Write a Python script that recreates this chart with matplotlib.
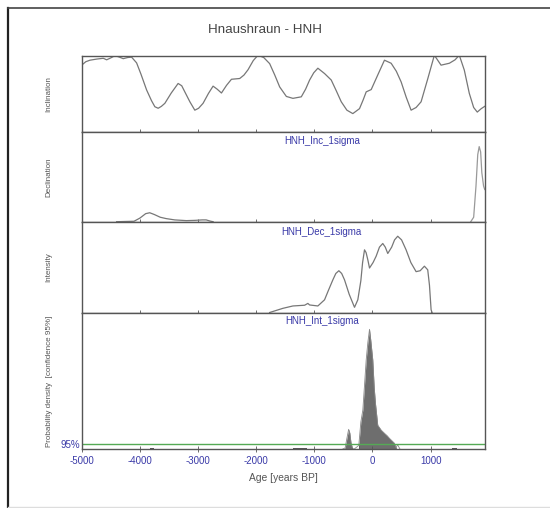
import numpy as np
import matplotlib
matplotlib.use("Agg")
import matplotlib.pyplot as plt
from matplotlib.lines import Line2D

plt.rcParams['font.family'] = ['Liberation Sans', 'DejaVu Sans']

# -----------------------------------------------------------------------------
# Data
# -----------------------------------------------------------------------------
inc_age = [-5000, -4930, -4858, -4740, -4629, -4571, -4500, -4428, -4350, -4286,
           -4210, -4142, -4056, -3980, -3884, -3800, -3742, -3685, -3630, -3570,
           -3460, -3342, -3280, -3227, -3140, -3055, -2990, -2913, -2820, -2741,
           -2670, -2597, -2510, -2425, -2283, -2210, -2140, -2050, -1969, -1870,
           -1768, -1680, -1596, -1481, -1368, -1224, -1150, -1081, -1010, -939,
           -824, -709, -620, -537, -440, -338, -223, -160, -108, -22,
           90, 206, 321, 410, 493, 580, 664, 750, 836, 950,
           1064, 1179, 1322, 1420, 1493, 1579, 1665, 1740, 1802, 1870, 1930]
inc_val = [77.6, 78.5, 78.9, 79.2, 79.4, 79.0, 79.5, 80.1, 79.7, 79.3,
           79.6, 79.7, 78.2, 75.2, 71.1, 68.3, 66.7, 66.3, 66.8, 67.6,
           70.3, 72.8, 72.2, 70.6, 68.0, 65.8, 66.3, 67.6, 70.2, 72.1,
           71.3, 70.3, 72.3, 73.9, 74.1, 75.0, 76.4, 78.8, 80.2, 79.6,
           78.0, 75.0, 71.9, 69.4, 68.9, 69.3, 71.3, 73.7, 75.6, 76.8,
           75.4, 73.7, 70.8, 68.0, 65.8, 64.9, 66.2, 68.5, 70.6, 71.2,
           75.0, 78.9, 78.1, 76.0, 73.2, 69.2, 65.8, 66.5, 68.0, 74.0,
           80.2, 77.6, 78.1, 79.0, 80.2, 76.3, 70.2, 66.5, 65.3, 66.2, 66.8]

dec_age_a = [-4400, -4100, -4000, -3900, -3830, -3750, -3650, -3550, -3400,
             -3200, -3050, -2930, -2860, -2780, -2740]
dec_val_a = [0.0, 0.005, 0.04, 0.09, 0.10, 0.08, 0.05, 0.035, 0.02,
             0.012, 0.015, 0.02, 0.02, 0.005, 0.0]
dec_age_b = [1690, 1740, 1780, 1810, 1835, 1860, 1880, 1910, 1930]
dec_val_b = [0.0, 0.05, 0.40, 0.75, 0.84, 0.78, 0.55, 0.40, 0.36]

int_age = [-1768, -1540, -1368, -1167, -1111, -1081, -939, -824, -760, -681,
           -630, -578, -530, -481, -400, -309, -252, -200, -170, -137,
           -110, -80, -51, 10, 63, 120, 177, 220, 263, 330,
           380, 434, 500, 578, 660, 750, 820, 893, 950, 980, 1008, 1025]
int_val = [0.0, 0.046, 0.072, 0.08, 0.10, 0.083, 0.072, 0.14, 0.24, 0.36,
           0.43, 0.46, 0.43, 0.36, 0.20, 0.057, 0.14, 0.35, 0.55, 0.69,
           0.66, 0.58, 0.49, 0.55, 0.62, 0.72, 0.76, 0.72, 0.65, 0.72,
           0.80, 0.84, 0.80, 0.69, 0.55, 0.45, 0.46, 0.51, 0.47, 0.30, 0.03, 0.0]

pd_age = [-520, -470, -440, -410, -390, -370, -345, -320, -290, -260,
          -235, -200, -166, -140, -108, -80, -51, -30, 5, 30,
          51, 91, 150, 206, 250, 292, 340, 378, 407, 430, 475]
pd_val = [0.0, 0.01, 0.08, 0.146, 0.12, 0.05, 0.01, 0.0, 0.01, 0.02,
          0.03, 0.20, 0.287, 0.45, 0.654, 0.78, 0.877, 0.80, 0.654, 0.45,
          0.337, 0.176, 0.14, 0.117, 0.10, 0.08, 0.06, 0.044, 0.01, 0.035, 0.0]
hpd_ranges = [(-470, -345), (-235, 407)]
# tiny density blobs close to the baseline
blob_ranges = [(-3820, -3760), (-1360, -1130), (1370, 1460)]
blob_height = 0.008
level_95 = 0.037

xticks = [-5000, -4000, -3000, -2000, -1000, 0, 1000]
panel_names = ['Inclination', 'Declination', 'Intensity',
               'Probability density  [confidence 95%]']
panel_tags = ['HNH_Inc_1sigma', 'HNH_Dec_1sigma', 'HNH_Int_1sigma']

# -----------------------------------------------------------------------------
# Figure layout (pixel based)
# -----------------------------------------------------------------------------
W, H = 550, 508
fig = plt.figure(figsize=(W / 100, H / 100), dpi=100)
fig.patch.set_facecolor('white')

left_px, right_px = 81.7, 485.3
bounds_px = [56.0, 132.3, 221.7, 312.5, 449.3]
line_c = '#777777'
spine_c = '#555555'
blue = '#3a3aa8'

axes = []
for i in range(4):
    top, bot = bounds_px[i], bounds_px[i + 1]
    ax = fig.add_axes([left_px / W, 1 - bot / H, (right_px - left_px) / W, (bot - top) / H])
    ax.set_xlim(-5000, 1940)
    for s in ax.spines.values():
        s.set_color(spine_c)
        s.set_linewidth(1.0)
    ax.set_xticks(xticks)
    ax.tick_params(axis='x', direction='inout', length=4, width=0.6, color=spine_c,
                   labelbottom=False)
    ax.set_yticks([])
    ax.set_ylabel(panel_names[i], fontsize=5.8, color='#555555')
    ax.yaxis.set_label_coords(-0.072, 0.5)
    axes.append(ax)

# Inclination
ax = axes[0]
ax.plot(inc_age, inc_val, color=line_c, lw=0.9)
ax.set_ylim(60.0, 80.0)

# Declination
ax = axes[1]
ax.plot(dec_age_a, dec_val_a, color=line_c, lw=0.9)
ax.plot(dec_age_b, dec_val_b, color='#999999', lw=0.9)
ax.set_ylim(0, 1.0)
ax.text(0.595, 0.90, panel_tags[0], transform=ax.transAxes, ha='center', va='center',
        fontsize=7, color=blue)

# Intensity
ax = axes[2]
ax.plot(int_age, int_val, color=line_c, lw=0.9)
ax.set_ylim(0, 1.0)
ax.text(0.595, 0.89, panel_tags[1], transform=ax.transAxes, ha='center', va='center',
        fontsize=7, color=blue)

# Probability density
ax = axes[3]
ax.set_ylim(0, 1.0)
age = np.array(pd_age, dtype=float)
val = np.array(pd_val)
ax.plot(age, val, color='#888888', lw=0.6)
for lo, hi in hpd_ranges:
    mask = (age >= lo) & (age <= hi)
    ax.fill_between(age[mask], 0, val[mask], color='#6e6e6e', lw=0)
    ax.vlines([lo, hi], 0, np.interp([lo, hi], age, val), color='#555555', lw=0.6)
for lo, hi in blob_ranges:
    ax.fill_between([lo, hi], 0, blob_height, color='#555555', lw=0)
ax.axhline(level_95, color='#55aa55', lw=1.0)
ax.set_yticks([level_95])
ax.set_yticklabels(['95%'])
ax.tick_params(axis='y', length=0, pad=1, labelsize=7, labelcolor=blue)
ax.tick_params(axis='x', labelbottom=True, labelsize=7, labelcolor=blue, pad=3)
ax.set_xticklabels([str(t) for t in xticks])
ax.text(0.595, 0.935, panel_tags[2], transform=ax.transAxes, ha='center', va='center',
        fontsize=7, color=blue)
ax.set_xlabel('Age [years BP]', fontsize=7.4, color='#555555', labelpad=5)

# Title
fig.text(265 / W, 1 - 30 / H, 'Hnaushraun - HNH', ha='center', va='center',
         fontsize=9.6, color='#444444')

# Frame lines of the original picture
fig.add_artist(Line2D([8 / W, 8 / W], [0, 1 - 8 / H], color='#222222', lw=1.6))
fig.add_artist(Line2D([8 / W, 1], [1 - 8 / H, 1 - 8 / H], color='#444444', lw=1.2))
fig.add_artist(Line2D([8 / W, 1], [1 / H, 1 / H], color='#dddddd', lw=1.0))

fig.savefig('out.png', dpi=100)
